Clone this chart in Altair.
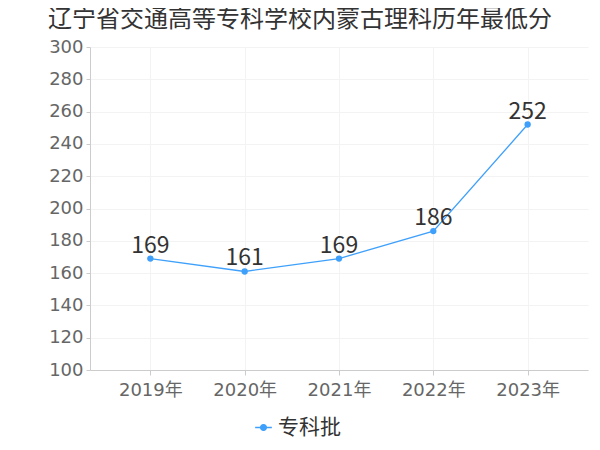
import altair as alt
import pandas as pd

years = ["2019年", "2020年", "2021年", "2022年", "2023年"]
scores = [169, 161, 169, 186, 252]
series = ["专科批"] * 5

df = pd.DataFrame({"year": years, "score": scores, "series": series})

FONT = "DejaVu Sans, Noto Sans CJK SC"
CJK = "Noto Sans CJK SC"
COLOR = "#3fa0fb"

base = alt.Chart(df).encode(
    x=alt.X("year:N", sort=years, title=None,
            scale=alt.Scale(type="point", padding=0.64),
            axis=alt.Axis(labelFontSize=18, labelColor="#666666", labelFont=FONT,
                          labelAngle=0, labelPadding=6,
                          domainColor="#cccccc", tickColor="#cccccc", tickSize=5,
                          grid=True, gridColor="#f3f3f3")),
    y=alt.Y("score:Q", title=None,
            scale=alt.Scale(domain=[100, 300], nice=False, zero=False),
            axis=alt.Axis(values=list(range(100, 301, 20)), labelFontSize=18,
                          labelColor="#666666", labelFont=FONT, labelPadding=3,
                          domainColor="#cccccc", tickColor="#cccccc", tickSize=4,
                          grid=True, gridColor="#f3f3f3")),
)

line = base.mark_line(strokeWidth=1.3, point=alt.OverlayMarkDef(filled=True, size=40, opacity=1)).encode(
    color=alt.Color("series:N", scale=alt.Scale(range=[COLOR]), title=None,
                    legend=alt.Legend(orient="none", legendX=163, legendY=370,
                                      direction="horizontal",
                                      labelFontSize=21, labelColor="#333333", labelFont=CJK,
                                      labelOffset=4,
                                      symbolType="M-1,0H1M-0.35,0A0.35,0.35,0,1,1,0.35,0A0.35,0.35,0,1,1,-0.35,0",
                                      symbolSize=280, symbolStrokeWidth=1.3,
                                      symbolFillColor=COLOR, symbolStrokeColor=COLOR))
)

labels = base.mark_text(dy=-13, fontSize=23, color="#333333", font=CJK, baseline="middle").encode(
    text="score:Q"
)

chart = alt.layer(line, labels).properties(
    width=498, height=323,
    title=alt.TitleParams("辽宁省交通高等专科学校内蒙古理科历年最低分", anchor="start",
                          frame="group", dx=-42, offset=6, fontSize=24,
                          font=CJK, fontWeight="normal", color="#333333"),
    autosize=alt.AutoSizeParams(type="none"),
    padding={"left": 82, "top": 39, "right": 4, "bottom": 72},
).configure_view(stroke=None)

chart.save("out.html", embed_options={"renderer": "svg", "actions": False})
